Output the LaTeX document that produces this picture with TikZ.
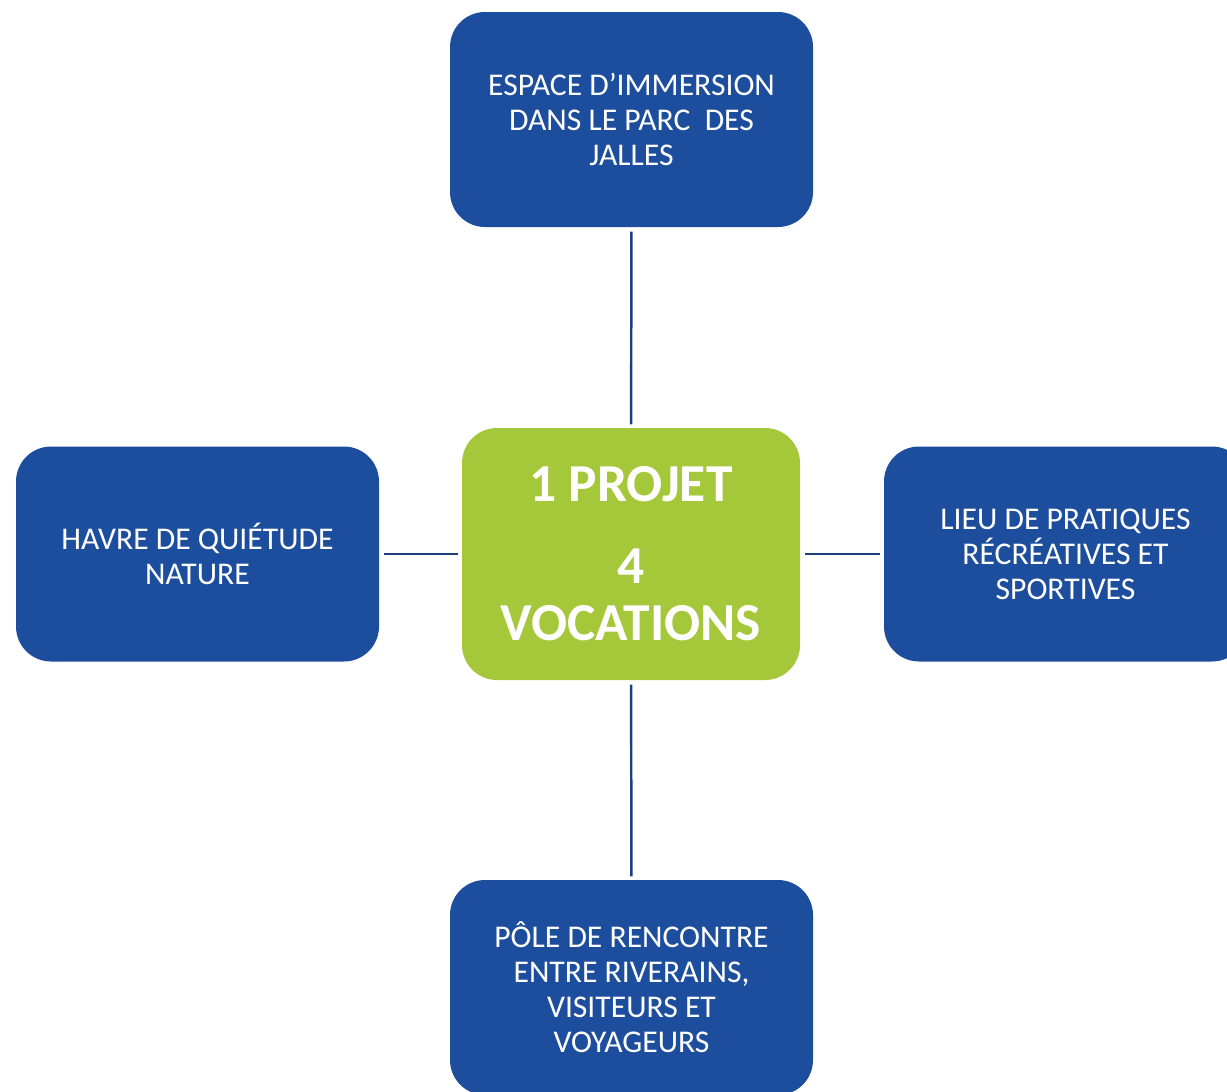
\documentclass[tikz,border=0pt]{standalone}
\usepackage{fontspec}
\setmainfont{Carlito}
\usetikzlibrary{positioning}
\definecolor{vocblue}{HTML}{1D4E9E}
\definecolor{projgreen}{HTML}{A5C83A}
\definecolor{linkblue}{HTML}{1F3E80}

\begin{document}
\begin{tikzpicture}[
                box/.style={rectangle, rounded corners=0.35cm, fill=vocblue, text=white, minimum width=3.63cm, minimum height=2.15cm, align=center, font=\fontsize{9}{9.96}\selectfont},
                link/.style={draw=linkblue, line width=0.7pt, shorten <=0.04cm, shorten >=0.03cm}
            ]
                \useasboundingbox (0,0) rectangle (12.27,-10.91);

                \node[box, fill=projgreen, minimum width=3.38cm, minimum height=2.52cm, font=\bfseries\fontsize{15.2}{16.2}\selectfont] (projet) at (6.31,-5.54) {1 PROJET\\[0.25cm]4\\VOCATIONS};

                \node[box] (immersion) at (6.315,-1.195) {ESPACE D’IMMERSION\\DANS LE PARC~~DES\\JALLES};
                \node[box] (havre) at (1.975,-5.54) {HAVRE DE QUIÉTUDE\\NATURE};
                \node[box] (loisirs) at (10.655,-5.54) {LIEU DE PRATIQUES\\RÉCRÉATIVES ET\\SPORTIVES};
                \node[box] (rencontre) at (6.315,-9.875) {PÔLE DE RENCONTRE\\ENTRE RIVERAINS,\\VISITEURS ET\\VOYAGEURS};

                \draw[link] (immersion) -- (projet);
                \draw[link] (projet) -- (rencontre);
                \draw[link] (havre) -- (projet);
                \draw[link] (projet) -- (loisirs);
            \end{tikzpicture}
\end{document}
